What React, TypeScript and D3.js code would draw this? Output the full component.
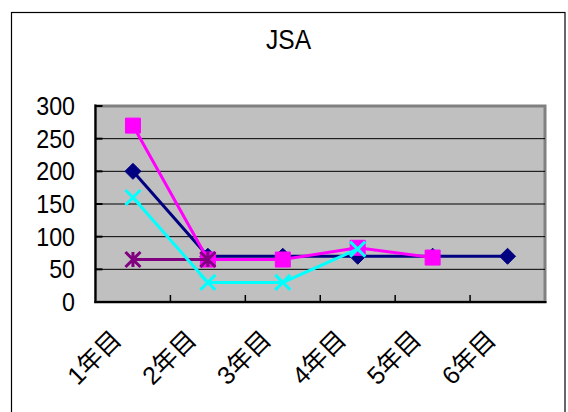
import React from "react";
import * as d3 from "d3";

const categories = ["1年目", "2年目", "3年目", "4年目", "5年目", "6年目"];
const navySeries = [200, 70, 70, 70, 70, 70];
const magentaSeries = [270, 65, 65, 83, 68, null];
const purpleSeries = [65, 65, null, null, null, null];
const cyanSeries = [160, 30, 30, 81, null, null];
const yTicks = [0, 50, 100, 150, 200, 250, 300];

const W = 568;
const H = 412;
const plot = { left: 95.5, right: 545, top: 106, bottom: 302 };
const FONT = "'Liberation Sans', Arial, 'Noto Sans CJK JP', sans-serif";

type Marker = "diamond" | "square" | "x" | "star";

function markerPath(kind: Marker, s: number): string {
  const h = s / 2;
  switch (kind) {
    case "diamond":
      return `M0,${-h}L${h},0L0,${h}L${-h},0Z`;
    case "square":
      return `M${-h},${-h}H${h}V${h}H${-h}Z`;
    case "x":
      return `M${-h},${-h}L${h},${h}M${-h},${h}L${h},${-h}`;
    case "star":
      return `M${-h},${-h}L${h},${h}M${-h},${h}L${h},${-h}M0,${-h}V${h}`;
  }
}

export default function App() {
  const x = d3
    .scaleBand<string>()
    .domain(categories)
    .range([plot.left, plot.right]);
  const y = d3.scaleLinear().domain([0, 300]).range([plot.bottom, plot.top]);
  const cx = (i: number) => (x(categories[i]) as number) + x.bandwidth() / 2;

  // drawing order: later series sit on top
  const series: { values: (number | null)[]; color: string; marker: Marker; size: number }[] = [
    { values: navySeries, color: "#000080", marker: "diamond", size: 16 },
    { values: magentaSeries, color: "#FF00FF", marker: "square", size: 15 },
    { values: purpleSeries, color: "#800080", marker: "star", size: 15 },
    { values: cyanSeries, color: "#00FFFF", marker: "x", size: 15 },
  ];

  const line = d3
    .line<number | null>()
    .defined((d) => d !== null)
    .x((_, i) => cx(i))
    .y((d) => y(d as number));

  return (
    <svg
      width={W}
      height={H}
      style={{ position: "fixed", left: 0, top: 0, background: "#fff" }}
    >
      <rect x={11.5} y={12.5} width={553.5} height={420} fill="#fff" stroke="#000" strokeWidth={1.2} />
      <text
        transform="translate(288.5,49) scale(0.91,1)"
        textAnchor="middle"
        fontFamily={FONT}
        fontSize={27}
        fill="#000"
      >
        JSA
      </text>
      <rect
        x={plot.left}
        y={plot.top}
        width={plot.right - plot.left}
        height={plot.bottom - plot.top}
        fill="#C0C0C0"
        stroke="#808080"
        strokeWidth={3}
      />
      {yTicks.slice(1, -1).map((t) => (
        <line key={t} x1={plot.left} x2={plot.right} y1={y(t)} y2={y(t)} stroke="#000" strokeWidth={1} />
      ))}
      {/* axes */}
      <line x1={plot.left} x2={plot.left} y1={plot.top - 1.5} y2={plot.bottom + 1} stroke="#000" strokeWidth={2} />
      <line x1={plot.left - 1} x2={plot.right + 1.5} y1={plot.bottom} y2={plot.bottom} stroke="#000" strokeWidth={2} />
      {yTicks.map((t) => (
        <g key={t}>
          <line x1={plot.left} x2={plot.left + 7} y1={y(t)} y2={y(t)} stroke="#000" strokeWidth={2} />
          <text
            transform={`translate(75,${y(t) + 9}) scale(0.93,1)`}
            textAnchor="end"
            fontFamily={FONT}
            fontSize={25}
            fill="#000"
          >
            {t}
          </text>
        </g>
      ))}
      {categories.slice(1).map((c) => (
        <line
          key={c}
          x1={x(c) as number}
          x2={x(c) as number}
          y1={plot.bottom}
          y2={plot.bottom - 7}
          stroke="#000"
          strokeWidth={1.5}
        />
      ))}
      {categories.map((c, i) => (
        <text
          key={c}
          transform={`translate(${cx(i) - 10},${plot.bottom + 39}) rotate(-45)`}
          textAnchor="end"
          fontFamily={FONT}
          fontSize={25}
          fill="#000"
        >
          {c}
        </text>
      ))}
      {series.map((s, si) => (
        <g key={si}>
          <path d={line(s.values) || ""} fill="none" stroke={s.color} strokeWidth={3} />
          {s.values.map((v, i) =>
            v === null ? null : (
              <path
                key={i}
                transform={`translate(${cx(i)},${y(v)})`}
                d={markerPath(s.marker, s.size)}
                fill={s.marker === "diamond" || s.marker === "square" ? s.color : "none"}
                stroke={s.color}
                strokeWidth={s.marker === "x" || s.marker === "star" ? 3 : 1}
              />
            )
          )}
        </g>
      ))}
    </svg>
  );
}
